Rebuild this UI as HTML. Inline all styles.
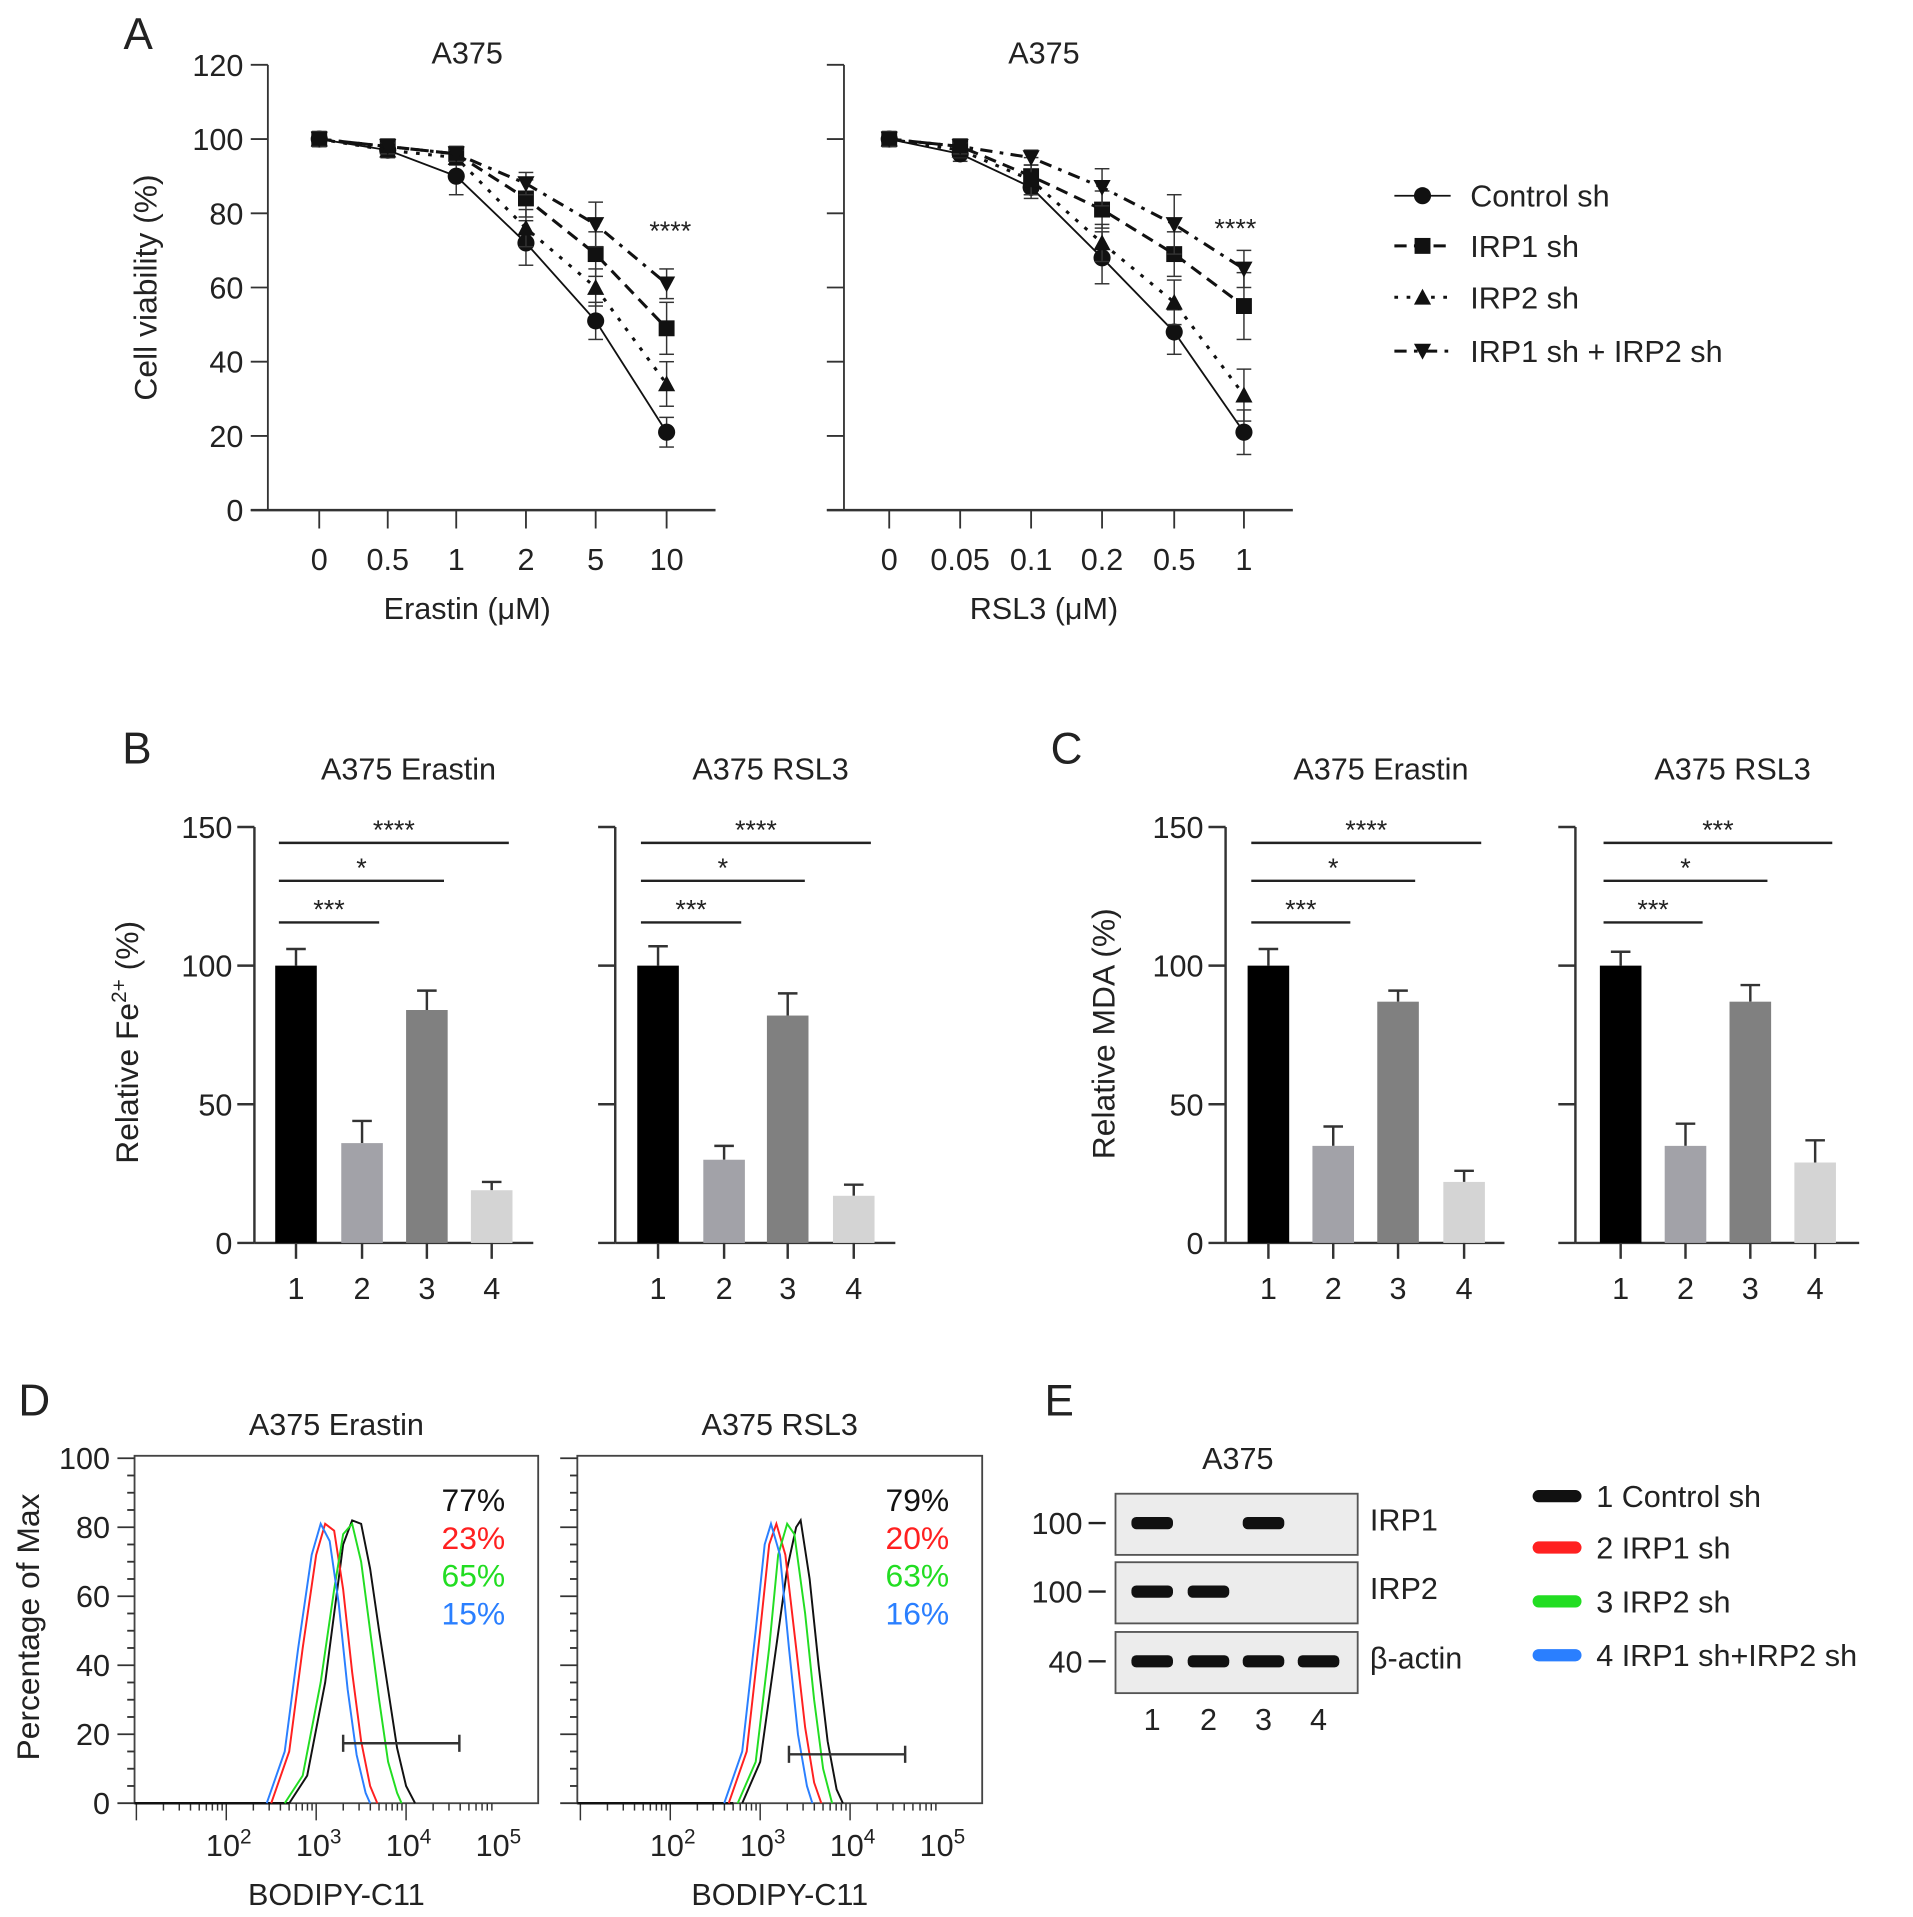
<!DOCTYPE html>
<html><head><meta charset="utf-8"><style>
html,body{margin:0;padding:0;background:#fff;}
svg{display:block;font-family:"Liberation Sans",Arial,sans-serif;}
</style></head><body>
<svg id="fig" width="1913" height="1917" viewBox="0 0 1564 1567" preserveAspectRatio="none" xmlns="http://www.w3.org/2000/svg"></svg>
<script>
// ---------- Panel A data ----------
const erastinDoses = ["0","0.5","1","2","5","10"];
const rsl3Doses = ["0","0.05","0.1","0.2","0.5","1"];
const seriesNames = ["Control sh","IRP1 sh","IRP2 sh","IRP1 sh + IRP2 sh"];
const erCtrl = [100,97,90,72,51,21];
const erIrp1 = [100,98,96,84,69,49];
const erIrp2 = [100,97,95,76,60,34];
const erBoth = [100,98,96,88,77,61];
const erCtrlErr = [2,2,5,6,5,4];
const erIrp1Err = [2,2,2,5,6,7];
const erIrp2Err = [2,2,2,5,5,6];
const erBothErr = [2,2,2,3,6,4];
const rsCtrl = [100,96,87,68,48,21];
const rsIrp1 = [100,98,90,81,69,55];
const rsIrp2 = [100,97,89,72,56,31];
const rsBoth = [100,98,95,87,77,65];
const rsCtrlErr = [2,2,3,7,6,6];
const rsIrp1Err = [2,2,5,5,6,9];
const rsIrp2Err = [2,2,4,5,6,7];
const rsBothErr = [2,2,2,5,8,5];
const viabTicks = [0,20,40,60,80,100,120];
// ---------- Panel B/C data ----------
const barCats = ["1","2","3","4"];
const feErastin = [100,36,84,19];
const feErastinErr = [6,8,7,3];
const feRsl3 = [100,30,82,17];
const feRsl3Err = [7,5,8,4];
const mdaErastin = [100,35,87,22];
const mdaErastinErr = [6,7,4,4];
const mdaRsl3 = [100,35,87,29];
const mdaRsl3Err = [5,8,6,8];
const barTicks = [0,50,100,150];
// ---------- Panel D data (log10 intensity, % of max) ----------
const hErBlackX=[2.7,2.9,3.1,3.2,3.3,3.4,3.5,3.6,3.7,3.8,3.9,4.0,4.1];
const hErBlackY=[0,8,35,55,75,82,81,68,50,33,16,5,0];
const hErGreenX=[2.65,2.85,3.05,3.2,3.3,3.4,3.5,3.6,3.7,3.8,3.9,3.95];
const hErGreenY=[0,8,35,62,78,81,70,50,30,12,3,0];
const hErRedX=[2.5,2.7,2.85,3.0,3.1,3.2,3.3,3.4,3.5,3.6,3.68];
const hErRedY=[0,15,45,72,81,79,62,38,18,5,0];
const hErBlueX=[2.45,2.65,2.8,2.95,3.05,3.15,3.25,3.35,3.45,3.55,3.6];
const hErBlueY=[0,15,45,72,81,76,58,33,14,3,0];
const hRsBlackX=[2.8,3.0,3.15,3.3,3.4,3.45,3.55,3.65,3.75,3.85,3.92];
const hRsBlackY=[0,12,40,68,80,82,65,40,18,4,0];
const hRsGreenX=[2.75,2.95,3.1,3.2,3.3,3.38,3.5,3.6,3.7,3.8];
const hRsGreenY=[0,12,45,72,81,78,55,30,10,0];
const hRsRedX=[2.65,2.85,3.0,3.1,3.18,3.28,3.4,3.5,3.6,3.68];
const hRsRedY=[0,15,50,75,81,72,45,22,6,0];
const hRsBlueX=[2.6,2.8,2.95,3.05,3.12,3.22,3.32,3.42,3.52,3.58];
const hRsBlueY=[0,15,50,75,81,72,45,20,5,0];
const histTicks=[0,20,40,60,80,100];
const logTicks=[2,3,4,5];
const erPct=["77%","23%","65%","15%"];
const rsPct=["79%","20%","63%","16%"];
const histColors=["#111","#ff2020","#22dd22","#2a7fff"];
// ---------- Panel E ----------
const blotIrp1=[1,0,1,0];
const blotIrp2=[1,1,0,0];
const blotActin=[1,1,1,1];

const svg=document.getElementById('fig');
const NS='http://www.w3.org/2000/svg';
function el(tag,attrs,parent){const e=document.createElementNS(NS,tag);for(const k in attrs)e.setAttribute(k,attrs[k]);(parent||svg).appendChild(e);return e;}
function txt(x,y,s,size,anchor,parent,fill){const t=el('text',{x:x,y:y,'font-size':size,'text-anchor':anchor||'middle',fill:fill||'#222'},parent);t.textContent=s;return t;}
function grp(name){const g=el('g',{});return g;}

// panel letters
[['A',113,40],['B',112,624],['C',872,624],['D',28,1157],['E',866,1157]].forEach(p=>{const t=txt(p[1],p[2],p[0],36,'middle');});

// ---------- Panel A ----------
function lineChart(name,axX,axEnd,xs,labels,title,xtitle,sets,errs,starX,starY,showY){
  const g=grp(name);
  const y0=417,yTop=53;
  const yS=v=>y0-(v/120)*(y0-yTop);
  el('line',{x1:axX,y1:yTop,x2:axX,y2:y0,stroke:'#333','stroke-width':1.5},g);
  el('line',{x1:axX-14,y1:y0,x2:axEnd,y2:y0,stroke:'#333','stroke-width':2},g);
  viabTicks.forEach(v=>{el('line',{x1:axX-14,y1:yS(v),x2:axX,y2:yS(v),stroke:'#333','stroke-width':1.5},g);
    if(showY){const t=txt(axX-20,yS(v)+9,String(v),25,'end',g);}});
  labels.forEach((l,i)=>{el('line',{x1:xs[i],y1:y0,x2:xs[i],y2:y0+15,stroke:'#333','stroke-width':1.5},g);
    const t=txt(xs[i],466,l,25,'middle',g);});
  const tt=txt((axX+axEnd)/2-20,52,title,25,'middle',g);
  const xt=txt((axX+axEnd)/2-20,506,xtitle,25,'middle',g);
  const dashes=['none','10,6','3,7','10,6,3,6'];
  sets.forEach((s,si)=>{
    let d='';s.forEach((v,i)=>{d+=(i?'L':'M')+xs[i]+','+yS(v);});
    const p=el('path',{d:d,fill:'none',stroke:'#111','stroke-width':si==0?1.5:2.5,'stroke-dasharray':dashes[si]},g);
    
    s.forEach((v,i)=>{const e=errs[si][i];
      el('line',{x1:xs[i],y1:yS(v-e),x2:xs[i],y2:yS(v+e),stroke:'#333','stroke-width':1.2},g);
      el('line',{x1:xs[i]-6,y1:yS(v-e),x2:xs[i]+6,y2:yS(v-e),stroke:'#333','stroke-width':1.2},g);
      el('line',{x1:xs[i]-6,y1:yS(v+e),x2:xs[i]+6,y2:yS(v+e),stroke:'#333','stroke-width':1.2},g);
      marker(si,xs[i],yS(v),g);});
  });
  const st=txt(starX,starY,'****',22,'middle',g);
}
function marker(si,x,y,g){let m;
  if(si==0)m=el('circle',{cx:x,cy:y,r:7,fill:'#111'},g);
  else if(si==1)m=el('rect',{x:x-6.5,y:y-6.5,width:13,height:13,fill:'#111'},g);
  else if(si==2)m=el('polygon',{points:`${x},${y-7} ${x-7},${y+6} ${x+7},${y+6}`,fill:'#111'},g);
  else m=el('polygon',{points:`${x-7},${y-6} ${x+7},${y-6} ${x},${y+7}`,fill:'#111'},g);
  }
lineChart('erastin-viability-chart',219,585,[261,317,373,430,487,545],erastinDoses,'A375','Erastin (μM)',[erCtrl,erIrp1,erIrp2,erBoth],[erCtrlErr,erIrp1Err,erIrp2Err,erBothErr],548,196,true);
lineChart('rsl3-viability-chart',690,1057,[727,785,843,901,960,1017],rsl3Doses,'A375','RSL3 (μM)',[rsCtrl,rsIrp1,rsIrp2,rsBoth],[rsCtrlErr,rsIrp1Err,rsIrp2Err,rsBothErr],1010,194,false);
{const t=el('text',{x:0,y:0,'font-size':26,'text-anchor':'middle',fill:'#222',transform:'translate(128,235) rotate(-90)'});t.textContent='Cell viability (%)';}
{const g=grp('legend-a');const dashes=['none','10,6','3,7','10,6,3,6'];
 [160,201,243,287].forEach((y,i)=>{const e=grp('legend-entry');g.appendChild(e);
  el('line',{x1:1140,y1:y,x2:1186,y2:y,stroke:'#111','stroke-width':i==0?1.5:2.5,'stroke-dasharray':dashes[i]},e);
  marker(i,1163,y,e);txt(1202,y+9,seriesNames[i],25,'start',e);});}

// ---------- Panels B/C ----------
const barColors=['#000','#a2a2a8','#808080','#d4d4d4'];
function barChart(name,axX,axEnd,xs,vals,errs,title,showY,sig,stars){
  const g=grp(name);const y0=1016,yTop=676;const yS=v=>y0-(v/150)*(y0-yTop);
  el('line',{x1:axX,y1:yTop,x2:axX,y2:y0,stroke:'#333','stroke-width':2},g);
  el('line',{x1:axX,y1:y0,x2:axEnd,y2:y0,stroke:'#333','stroke-width':2},g);
  barTicks.forEach(v=>{el('line',{x1:axX-14,y1:yS(v),x2:axX,y2:yS(v),stroke:'#333','stroke-width':2},g);
    if(showY){const t=txt(axX-18,yS(v)+9,String(v),25,'end',g);}});
  vals.forEach((v,i)=>{const e=errs[i];
    el('line',{x1:xs[i],y1:yS(v),x2:xs[i],y2:yS(v+e),stroke:'#333','stroke-width':2},g);
    el('line',{x1:xs[i]-8,y1:yS(v+e),x2:xs[i]+8,y2:yS(v+e),stroke:'#333','stroke-width':2},g);
    const r=el('rect',{x:xs[i]-17,y:yS(v),width:34,height:y0-yS(v),fill:barColors[i]},g);
    
    el('line',{x1:xs[i],y1:y0,x2:xs[i],y2:y0+13,stroke:'#333','stroke-width':2},g);
    const t=txt(xs[i],1062,barCats[i],25,'middle',g);});
  const tt=txt((xs[0]+xs[3])/2+12,637,title,25,'middle',g);
  const sy=[754,720,689];
  [1,2,3].forEach((k,j)=>{const x1=xs[0]-14,x2=xs[k]+14;
    const l=el('line',{x1:x1,y1:sy[j],x2:x2,y2:sy[j],stroke:'#222','stroke-width':2},g);
    txt((x1+x2)/2,sy[j]-3,stars[j],22,'middle',g);});
}
barChart('fe-erastin-chart',208,436,[242,296,349,402],feErastin,feErastinErr,'A375 Erastin',true,null,['***','*','****']);
barChart('fe-rsl3-chart',503,732,[538,592,644,698],feRsl3,feRsl3Err,'A375 RSL3',false,null,['***','*','****']);
barChart('mda-erastin-chart',1002,1230,[1037,1090,1143,1197],mdaErastin,mdaErastinErr,'A375 Erastin',true,null,['***','*','****']);
barChart('mda-rsl3-chart',1288,1520,[1325,1378,1431,1484],mdaRsl3,mdaRsl3Err,'A375 RSL3',false,null,['***','*','***']);
{const t=el('text',{x:0,y:0,'font-size':26,'text-anchor':'middle',fill:'#222',transform:'translate(113,852) rotate(-90)'});t.innerHTML='Relative Fe<tspan dy="-10" font-size="17">2+</tspan><tspan dy="10"> (%)</tspan>';}
{const t=el('text',{x:0,y:0,'font-size':26,'text-anchor':'middle',fill:'#222',transform:'translate(911,845) rotate(-90)'});t.textContent='Relative MDA (%)';}

// ---------- Panel D ----------
function hist(name,bx,bEnd,x2,title,curves,pct,gate,showY){
  const g=grp(name);const yT=1190,y0=1474;const yS=v=>y0-(v/100)*(y0-1192);
  const xS=l=>x2+(l-2)*73.5;
  el('rect',{x:bx,y:yT,width:bEnd-bx,height:y0-yT,fill:'none',stroke:'#444','stroke-width':1.5},g);
  for(let v=0;v<=100;v+=5){el('line',{x1:bx-(v%20==0?14:6),y1:yS(v),x2:bx,y2:yS(v),stroke:'#333','stroke-width':1.5},g);}
  if(showY)histTicks.forEach(v=>{const t=txt(bx-20,yS(v)+9,String(v),25,'end',g);});
  for(let d=1;d<=5;d++)for(let m=1;m<10;m++){const x=xS(Math.log10(m)+d-1+1)-73.5;if(x>bx&&x<bEnd)el('line',{x1:x,y1:y0,x2:x,y2:y0+(m==1?14:6),stroke:'#333','stroke-width':1.2},g);}
  logTicks.forEach(l=>{const t=el('text',{x:xS(l)+2,y:1517,'font-size':25,'text-anchor':'middle',fill:'#222'},g);t.innerHTML='10<tspan dy="-10" font-size="17">'+l+'</tspan>';});
  const tt=txt((bx+bEnd)/2,1173,title,25,'middle',g);
  const xt=txt((bx+bEnd)/2,1557,'BODIPY-C11',25,'middle',g);
  el('line',{x1:bx,y1:y0,x2:xS(2.7),y2:y0,stroke:'#111','stroke-width':2},g);
  curves.forEach((c,ci)=>{let d='';c[0].forEach((l,i)=>{d+=(i?'L':'M')+xS(l)+','+yS(c[1][i]);});
    const p=el('path',{d:d,fill:'none',stroke:histColors[ci],'stroke-width':1.6},g);});
  el('line',{x1:xS(gate),y1:gate===3.3?1425:1434,x2:xS(gate)+95,y2:gate===3.3?1425:1434,stroke:'#333','stroke-width':2},g);
  const gy=gate===3.3?1425:1434;
  el('line',{x1:xS(gate),y1:gy-7,x2:xS(gate),y2:gy+7,stroke:'#333','stroke-width':2},g);
  el('line',{x1:xS(gate)+95,y1:gy-7,x2:xS(gate)+95,y2:gy+7,stroke:'#333','stroke-width':2},g);
  pct.forEach((p,i)=>{const t=txt(bEnd-27,1235+i*31,p,26,'end',g,histColors[i]);});
}
hist('bodipy-erastin-histogram',110,440,185,'A375 Erastin',[[hErBlackX,hErBlackY],[hErRedX,hErRedY],[hErGreenX,hErGreenY],[hErBlueX,hErBlueY]],erPct,3.3,true);
hist('bodipy-rsl3-histogram',472,803,548,'A375 RSL3',[[hRsBlackX,hRsBlackY],[hRsRedX,hRsRedY],[hRsGreenX,hRsGreenY],[hRsBlueX,hRsBlueY]],rsPct,3.32,false);
{const t=el('text',{x:0,y:0,'font-size':26,'text-anchor':'middle',fill:'#222',transform:'translate(32,1330) rotate(-90)'});t.textContent='Percentage of Max';}

// ---------- Panel E ----------
{const g=grp('western-blot');const lanes=[942,988,1033,1078];
 const rows=[[1221,blotIrp1,'IRP1','100'],[1277,blotIrp2,'IRP2','100'],[1334,blotActin,'β-actin','40']];
 rows.forEach(r=>{const rg=grp('blot-row-'+r[2]);g.appendChild(rg);
  el('rect',{x:912,y:r[0],width:198,height:50,fill:'#ececec',stroke:'#555','stroke-width':1.5},rg);
  r[1].forEach((b,i)=>{if(b){const e=el('rect',{x:lanes[i]-17,y:r[0]+19,width:34,height:10,rx:4,fill:'#111'},rg);}});
  txt(1120,r[0]+30,r[2],25,'start',rg);
  txt(885,r[0]+33,r[3],25,'end',rg);
  el('line',{x1:890,y1:r[0]+24,x2:904,y2:r[0]+24,stroke:'#222','stroke-width':2},rg);});
 lanes.forEach((x,i)=>txt(x,1414,String(i+1),25,'middle',g));
 txt(1012,1201,'A375',25,'middle',g);
 const names=['1 Control sh','2 IRP1 sh','3 IRP2 sh','4 IRP1 sh+IRP2 sh'];
 [1223,1265,1309,1353].forEach((y,i)=>{const e=grp('legend-entry');g.appendChild(e);
  el('line',{x1:1258,y1:y,x2:1288,y2:y,stroke:histColors[i],'stroke-width':10,'stroke-linecap':'round'},e);
  txt(1305,y+9,names[i],25,'start',e);});}
</script>
</body></html>
